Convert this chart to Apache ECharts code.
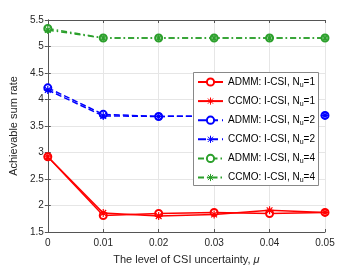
<!DOCTYPE html>
<html><head><meta charset="utf-8">
<script src="https://cdn.jsdelivr.net/npm/echarts@6/dist/echarts.min.js"></script>
<style>html,body{margin:0;padding:0;background:#fff}#c{width:360px;height:270px}</style>
</head><body><div id="c"></div>
<script>
const xValues = [0, 0.01, 0.02, 0.03, 0.04, 0.05];
const admmNu1 = [2.92, 1.81, 1.85, 1.87, 1.85, 1.87];
const ccmoNu1 = [2.92, 1.86, 1.80, 1.83, 1.91, 1.87];
const admmNu2 = [4.22, 3.72, 3.68, 3.69, 3.69, 3.70];
const ccmoNu2 = [4.18, 3.69, 3.68, 3.69, 3.69, 3.70];
const admmNu4 = [5.34, 5.16, 5.16, 5.16, 5.16, 5.16];
const ccmoNu4 = [5.31, 5.16, 5.16, 5.16, 5.16, 5.16];
const seriesNames = ['ADMM: I-CSI, N_u=1','CCMO: I-CSI, N_u=1','ADMM: I-CSI, N_u=2','CCMO: I-CSI, N_u=2','ADMM: I-CSI, N_u=4','CCMO: I-CSI, N_u=4'];
const yTicks = [1.5, 2, 2.5, 3, 3.5, 4, 4.5, 5, 5.5];

const star = 'path://M0,-5L0,5M-5,0L5,0M-3.6,-3.6L3.6,3.6M-3.6,3.6L3.6,-3.6';
const RED = '#ff0000', BLUE = '#0000ff', GREEN = '#2ca02c';
function mk(name, vals, color, type, isStar) {
  return {
    name, type: 'line', data: xValues.map((x, i) => [x, vals[i]]),
    symbol: isStar ? star : 'emptyCircle',
    symbolSize: isStar ? 8 : 7,
    showAllSymbol: true,
    lineStyle: { color, width: 1.5, type },
    itemStyle: isStar ? { color: color, borderColor: color, borderWidth: 1.2 }
                      : { color: color, borderColor: color, borderWidth: 1.5 },
    emphasis: { disabled: true }, z: 3
  };
}
const dashDot = [6, 3, 1.5, 3];
const chart = echarts.init(document.getElementById('c'), null, { renderer: 'canvas' });
const axisCol = '#555';
const gridLines = { show: true, lineStyle: { color: '#e6e6e6', width: 1 } };
chart.setOption({
  animation: false,
  backgroundColor: '#fff',
  textStyle: { fontFamily: 'Liberation Sans, Arial, sans-serif' },
  grid: { left: 47, right: 35, top: 20, bottom: 32, show: false },
  graphic: [{
    type: 'rect', left: 193, top: 72, z: 5,
    shape: { width: 125, height: 113 },
    style: { fill: '#fff', stroke: '#888', lineWidth: 1 }
  }],
  xAxis: [{
    type: 'value', min: 0, max: 0.05, interval: 0.01,
    name: 'The level of CSI uncertainty, {i|μ}', nameLocation: 'middle', nameGap: 22,
    nameTextStyle: { fontSize: 11, color: '#262626', rich: { i: { fontStyle: 'italic', fontSize: 11, color: '#262626' } } },
    axisLine: { show: true, lineStyle: { color: axisCol } },
    axisTick: { show: true, inside: true, length: 3, lineStyle: { color: axisCol } },
    axisLabel: { fontSize: 10, color: '#262626', margin: 6, formatter: v => String(+v.toFixed(2)) },
    splitLine: gridLines
  }, {
    type: 'value', min: 0, max: 0.05, interval: 0.01, position: 'top',
    axisLine: { show: true, lineStyle: { color: axisCol } },
    axisTick: { show: true, inside: true, length: 3, lineStyle: { color: axisCol } },
    axisLabel: { show: false }, splitLine: { show: false }
  }],
  yAxis: [{
    type: 'value', min: yTicks[0], max: yTicks[yTicks.length - 1], interval: 0.5,
    name: 'Achievable sum rate', nameLocation: 'middle', nameGap: 16,
    nameTextStyle: { fontSize: 11, color: '#262626' },
    axisLine: { show: true, lineStyle: { color: axisCol } },
    axisTick: { show: true, inside: true, length: 3, lineStyle: { color: axisCol } },
    axisLabel: { fontSize: 10, color: '#262626', margin: 4, formatter: v => String(v) },
    splitLine: gridLines
  }, {
    type: 'value', min: yTicks[0], max: yTicks[yTicks.length - 1], interval: 0.5, position: 'right',
    axisLine: { show: true, lineStyle: { color: axisCol } },
    axisTick: { show: true, inside: true, length: 3, lineStyle: { color: axisCol } },
    axisLabel: { show: false }, splitLine: { show: false }
  }],
  legend: {
    left: 193, top: 74, orient: 'vertical', z: 10,
    padding: [3, 2, 3, 4],
    itemWidth: 25, itemHeight: 9, itemGap: 7.6,
    itemStyle: { borderWidth: 1 },
    data: seriesNames,
    formatter: n => n.replace('_u', '{s|u}'),
    textStyle: { fontSize: 10, color: '#000',
      rich: { s: { fontSize: 7, verticalAlign: 'bottom', padding: [6, 0, 0, 0], color: '#000' } } }
  },
  series: [
    mk(seriesNames[0], admmNu1, RED, 'solid', false),
    mk(seriesNames[1], ccmoNu1, RED, 'solid', true),
    mk(seriesNames[2], admmNu2, BLUE, 'dashed', false),
    mk(seriesNames[3], ccmoNu2, BLUE, 'dashed', true),
    mk(seriesNames[4], admmNu4, GREEN, dashDot, false),
    mk(seriesNames[5], ccmoNu4, GREEN, dashDot, true)
  ]
});
</script></body></html>
